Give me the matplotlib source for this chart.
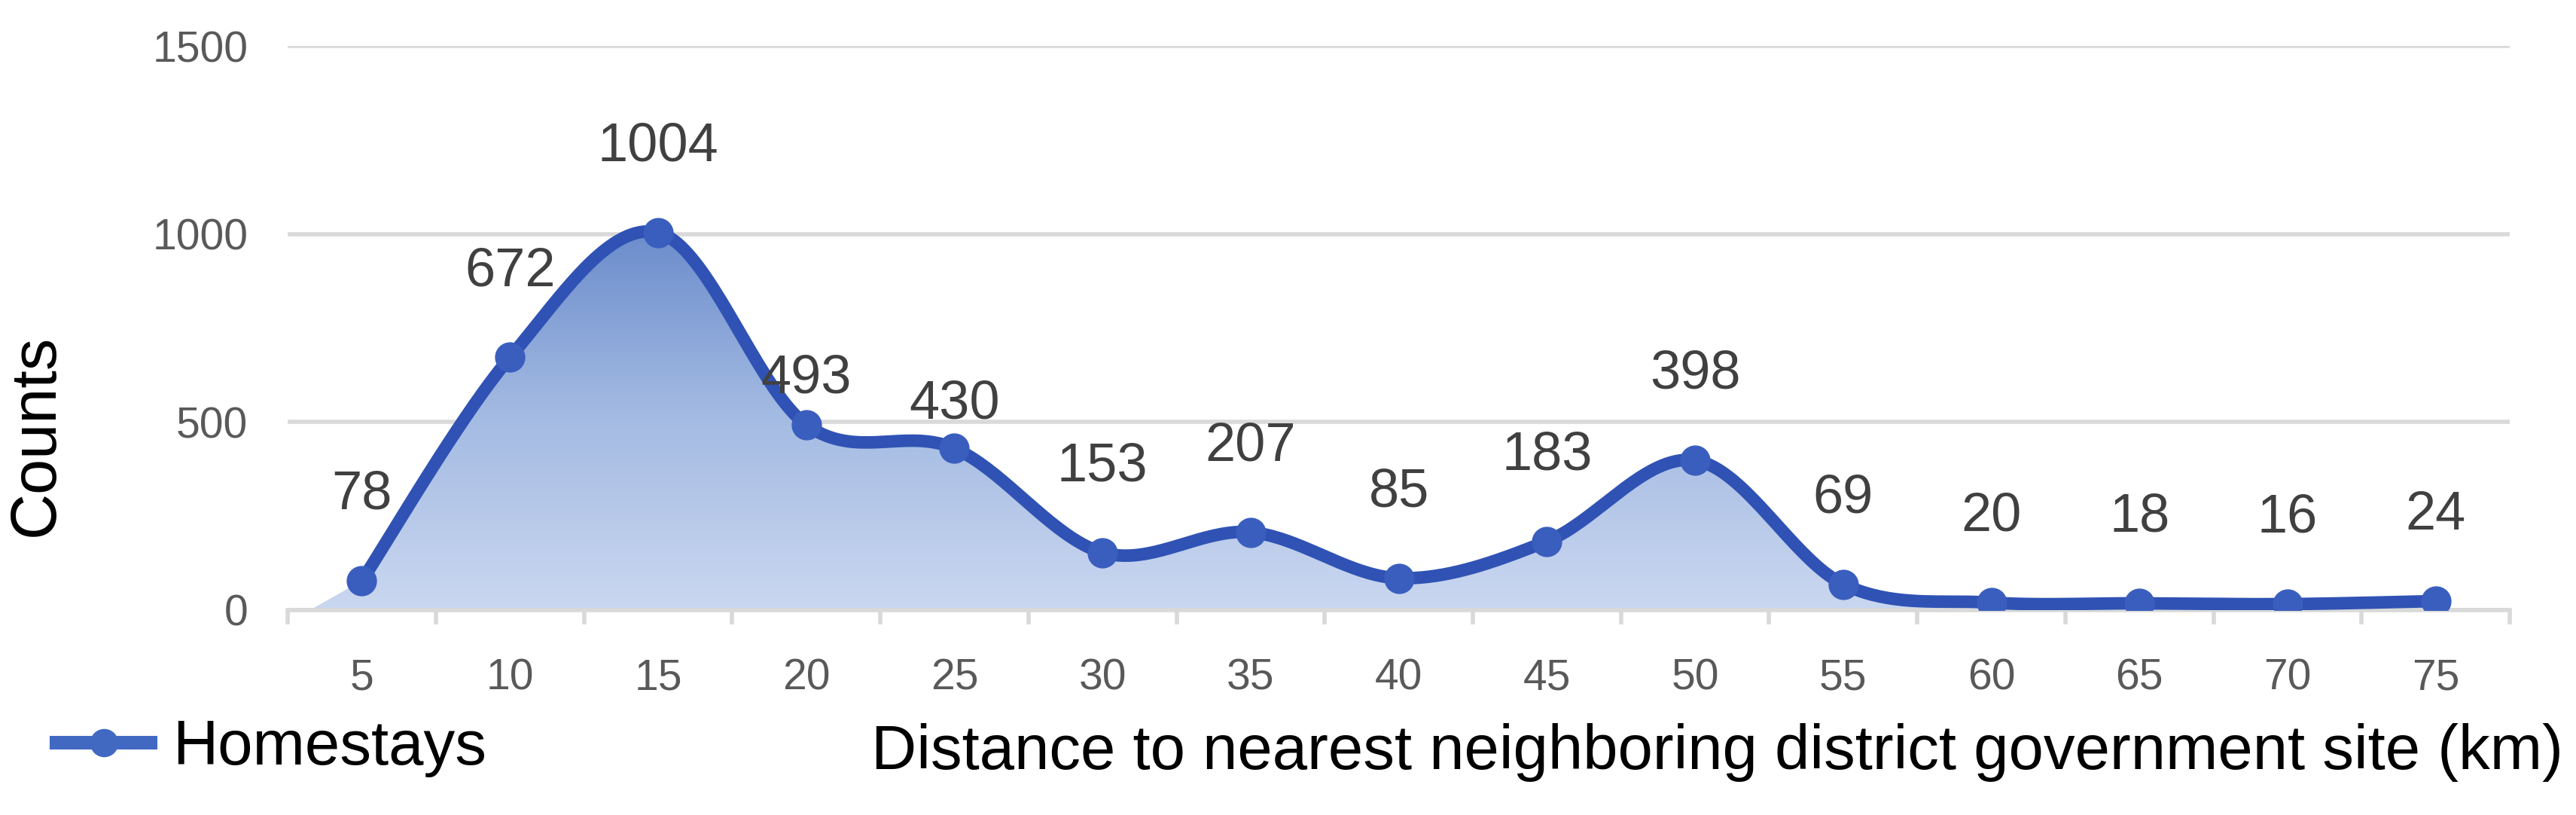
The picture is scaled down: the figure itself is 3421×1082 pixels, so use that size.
import numpy as np
import matplotlib.pyplot as plt
from matplotlib.colors import LinearSegmentedColormap
from matplotlib.patches import Polygon

plt.rcParams['font.family'] = ['Liberation Sans', 'DejaVu Sans']

# data
distance = ['5', '10', '15', '20', '25', '30', '35', '40', '45', '50', '55', '60', '65', '70', '75']
counts = [78, 672, 1004, 493, 430, 153, 207, 85, 183, 398, 69, 20, 18, 16, 24]
yticks = [0, 500, 1000, 1500]

# label offsets in points (two labels sit closer to the line)
label_offset = [82, 82, 82, 44, 42, 82, 82, 82, 82, 82, 82, 82, 82, 82, 82]

line_color = '#2F52B4'
marker_color = '#3A5EBE'
grid_color = '#D9D9D9'


def smooth(x, y, n=40):
    # catmull-rom style smoothing like excel's "smoothed line"
    x = np.asarray(x, dtype=float)
    y = np.asarray(y, dtype=float)
    px = np.concatenate(([x[0]], x, [x[-1]]))
    py = np.concatenate(([y[0]], y, [y[-1]]))
    xs, ys = [], []
    for i in range(1, len(px) - 2):
        t = np.linspace(0, 1, n, endpoint=False)
        for p, out in ((px, xs), (py, ys)):
            p0, p1, p2, p3 = p[i - 1], p[i], p[i + 1], p[i + 2]
            c1 = p1 + (p2 - p0) / 6
            c2 = p2 - (p3 - p1) / 6
            b = (1 - t) ** 3 * p1 + 3 * (1 - t) ** 2 * t * c1 + 3 * (1 - t) * t ** 2 * c2 + t ** 3 * p2
            out.extend(b)
    xs.append(x[-1])
    ys.append(y[-1])
    return np.array(xs), np.array(ys)


fig = plt.figure(figsize=(34.21, 10.82), dpi=100)
ax = fig.add_axes([0.1117, 0.2514, 0.8626, 0.6922])

idx = np.arange(len(counts))
sx, sy = smooth(idx, counts)

# gradient area under the curve
poly_x = np.concatenate(([idx[0] - 0.35], sx, [sx[-1]]))
poly_y = np.concatenate(([0], sy, [0]))
patch = Polygon(np.column_stack([poly_x, poly_y]), closed=True, facecolor='none', edgecolor='none')
ax.add_patch(patch)
cmap = LinearSegmentedColormap.from_list('fill', ['#CAD7F0', '#A3BAE2', '#6688CA'])
grad = np.linspace(0, 1, 256).reshape(-1, 1)
im = ax.imshow(grad, extent=[-0.5, 14.5, 0, 1050], origin='lower', aspect='auto', cmap=cmap, zorder=1)
im.set_clip_path(patch)

ax.plot(sx, sy, color=line_color, lw=12, zorder=3, solid_capstyle='round')
ax.plot(idx, counts, 'o', color=marker_color, ms=28, zorder=4)

for i, v in enumerate(counts):
    ax.annotate(str(v), (idx[i], v), xytext=(0, label_offset[i]), textcoords='offset points',
                ha='center', va='center', fontsize=52, color='#404040', zorder=5)

ax.set_xlim(-0.5, 14.5)
ax.set_ylim(0, 1500)
ax.set_yticks(yticks)
ax.yaxis.grid(True, color=grid_color, lw=4)
ax.set_axisbelow(True)
ax.tick_params(axis='y', length=0, pad=38, labelsize=41, labelcolor='#595959')

ax.set_xticks(idx)
ax.set_xticklabels(distance)
ax.set_xticks(np.arange(-0.5, 15, 1), minor=True)
ax.tick_params(axis='x', which='major', length=0, pad=46, labelsize=41, labelcolor='#595959')
ax.tick_params(axis='x', which='minor', length=14, width=4, color=grid_color)

for s in ['top', 'right', 'left']:
    ax.spines[s].set_visible(False)
ax.spines['bottom'].set_color(grid_color)
ax.spines['bottom'].set_linewidth(4)

ax.set_ylabel('Counts', fontsize=61, va='center')
ax.yaxis.set_label_coords(-0.113, 0.31)
ax.set_xlabel('Distance to nearest neighboring district government site (km)', fontsize=60, ha='right', va='center')
ax.xaxis.set_label_coords(1.024, -0.252)

h, = ax.plot([], [], '-o', color='#4169C2', lw=13, ms=26)
ax.legend([h], ['Homestays'], loc='center left', bbox_to_anchor=(0.022, 0.082), bbox_transform=fig.transFigure,
          frameon=False, fontsize=60, handlelength=1.5, handletextpad=0.35, borderpad=0, borderaxespad=0)

fig.savefig('out.png', dpi=100)
